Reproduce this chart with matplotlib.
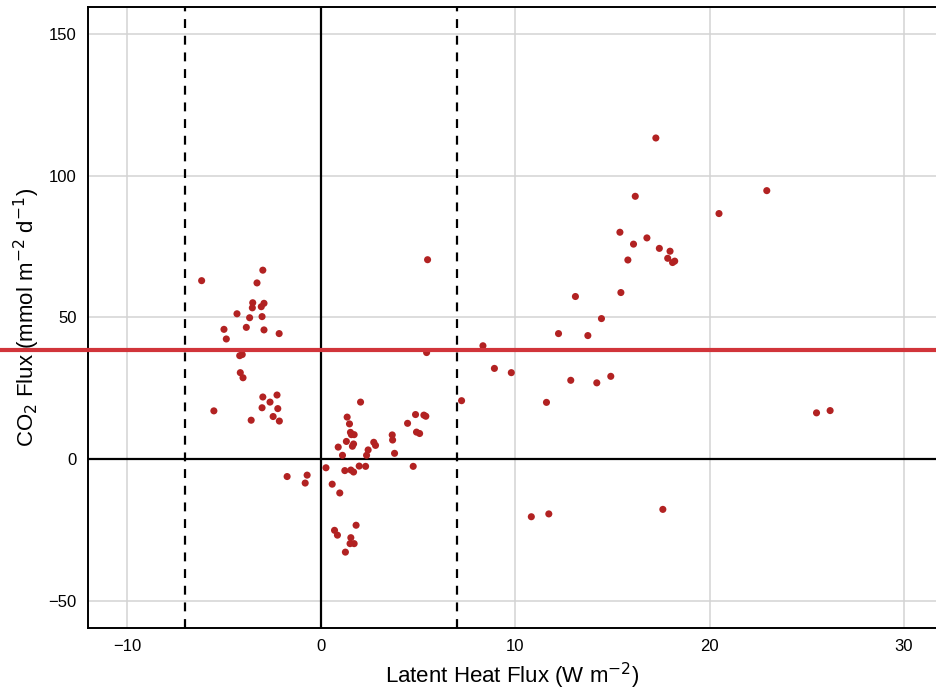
import numpy as np
import matplotlib.pyplot as plt

plt.rcParams['font.family'] = ['Liberation Sans', 'DejaVu Sans']

# latent heat flux (W m-2) and CO2 flux (mmol m-2 d-1)
latent_heat = [
    -6.15, -3.0, -3.3, -3.52, -2.94, -3.08, -3.54, -4.33, -3.68, -3.04,
    -5.0, -3.85, -2.94, -2.16, -4.88, -4.19, -4.06, -4.16, -4.02, -3.0,
    -2.27, -2.63, -5.52, -3.04, -2.23, -2.47, -3.6, -2.15, -1.75, -0.72,
    -0.82, 0.25,
    2.03, 1.34, 1.46, 1.51, 1.70, 1.56, 1.30, 1.67, 1.61, 0.88,
    1.10, 2.71, 2.80, 2.42, 2.34, 3.66, 3.68, 3.78, 4.45, 4.86,
    5.29, 5.39, 4.91, 5.07, 4.74, 7.23, 1.22, 1.53, 1.67, 1.96,
    2.29, 0.57, 0.96, 1.80, 0.69, 0.84, 1.53, 1.49, 1.70, 1.25,
    17.23, 16.17, 15.38, 16.77, 16.08, 17.41, 17.96, 17.84, 15.79, 18.09,
    18.2, 5.48, 13.09, 15.43, 14.43, 12.22, 13.73, 8.33, 5.43, 8.92,
    9.79, 12.85, 14.19, 14.91, 11.6, 10.82, 11.72, 17.59, 22.94, 20.48,
    25.5, 26.2,
]
co2_flux = [
    63.0, 66.7, 62.2, 55.2, 55.0, 53.8, 53.4, 51.3, 49.9, 50.3,
    45.8, 46.5, 45.6, 44.3, 42.4, 36.5, 36.9, 30.5, 28.7, 21.9,
    22.6, 20.1, 17.0, 18.1, 17.8, 15.0, 13.7, 13.4, -6.2, -5.7,
    -8.5, -3.1,
    20.1, 14.8, 12.4, 9.4, 8.6, 8.6, 6.2, 5.3, 4.5, 4.2,
    1.3, 5.9, 4.8, 3.2, 1.3, 8.5, 6.7, 2.0, 12.6, 15.7,
    15.5, 15.1, 9.5, 9.0, -2.6, 20.6, -4.1, -3.9, -4.6, -2.5,
    -2.6, -8.9, -12.0, -23.4, -25.2, -26.9, -27.8, -29.9, -29.9, -32.9,
    113.4, 92.8, 80.1, 78.1, 75.9, 74.4, 73.4, 70.9, 70.3, 69.4,
    69.9, 70.4, 57.4, 58.8, 49.6, 44.3, 43.6, 40.0, 37.6, 32.0,
    30.5, 27.8, 26.9, 29.2, 20.0, -20.4, -19.4, -17.8, 94.8, 86.7,
    16.3, 17.1,
]

threshold_le = 7
mean_co2 = 38.5

fig = plt.figure(figsize=(9.36, 6.92), dpi=100)
ax_left, ax_width = 0.094, 0.906
ax = fig.add_axes([ax_left, 0.0925, ax_width, 0.8975])

ax.grid(True, color='#d3d3d3', linewidth=1.1)
ax.set_axisbelow(True)

ax.axvline(0, color='black', linewidth=1.6, zorder=2)
ax.axhline(0, color='black', linewidth=1.6, zorder=2)
ax.axvline(-threshold_le, color='black', linewidth=1.6, linestyle=(0, (4, 3.5)), zorder=2)
ax.axvline(threshold_le, color='black', linewidth=1.6, linestyle=(0, (4, 3.5)), zorder=2)

ax.scatter(latent_heat, co2_flux, s=26, color='#b22222', edgecolors='none', zorder=3)

# mean line runs across the whole figure width
ax.axhline(mean_co2, xmin=-ax_left / ax_width, xmax=1, color='#d1343a',
           linewidth=3, zorder=10, clip_on=False)

ax.set_xlim(-12.0, 31.65)
ax.set_ylim(-59.7, 159.7)
ax.set_xticks([-10, 0, 10, 20, 30])
ax.set_yticks([-50, 0, 50, 100, 150])
ax.set_xticklabels(['\u221210', '0', '10', '20', '30'])
ax.set_yticklabels(['\u221250', '0', '50', '100', '150'])
ax.tick_params(length=0, labelsize=12, pad=8)

for side in ['left', 'top', 'bottom']:
    ax.spines[side].set_linewidth(1.4)
ax.spines['right'].set_visible(False)

ax.set_xlabel('Latent Heat Flux (W m$^{-2}$)', fontsize=16, labelpad=5)
ax.set_ylabel('CO$_2$ Flux (mmol m$^{-2}$ d$^{-1}$)', fontsize=16, labelpad=5)

fig.savefig('out.png', dpi=100)
